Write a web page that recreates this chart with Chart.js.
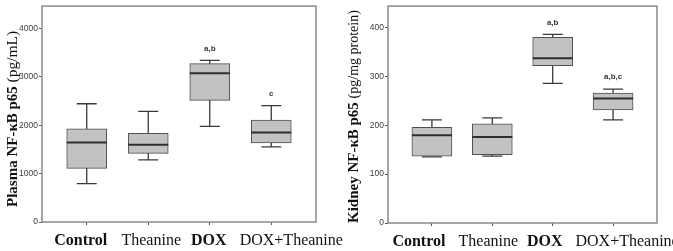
<!DOCTYPE html>
<html>
<head>
<meta charset="utf-8">
<script src="https://cdn.jsdelivr.net/npm/chart.js@4/dist/chart.umd.min.js"></script>
<style>
  body { margin: 0; background: #fff; }
  #wrap { position: relative; width: 673px; height: 251px; overflow: hidden; }
  canvas { position: absolute; top: 0; }
</style>
</head>
<body>
<div id="wrap">
  <canvas id="plasma" width="348" height="251" style="left:0"></canvas>
  <canvas id="kidney" width="333" height="251" style="left:340px"></canvas>
</div>
<script>
const groups = ['Control', 'Theanine', 'DOX', 'DOX+Theanine'];

// plasma NF-kB p65, pg/mL
const plasmaLow    = [793, 1285, 1977, 1552];
const plasmaQ1     = [1109, 1417, 2511, 1635];
const plasmaMedian = [1640, 1594, 3072, 1848];
const plasmaQ3     = [1925, 1834, 3271, 2107];
const plasmaHigh   = [2443, 2285, 3339, 2402];
const plasmaMarks  = ['', '', 'a,b', 'c'];
const plasmaTicks  = [0, 1000, 2000, 3000, 4000];

// kidney NF-kB p65, pg/mg protein
const kidneyLow    = [135.5, 137, 286, 211];
const kidneyQ1     = [137, 140, 322, 231.5];
const kidneyMedian = [179.5, 176, 337, 254.6];
const kidneyQ3     = [196, 203, 380, 266];
const kidneyHigh   = [211, 215, 386, 274];
const kidneyMarks  = ['', '', 'a,b', 'a,b,c'];
const kidneyTicks  = [0, 100, 200, 300, 400];

const SERIF = "'Liberation Serif', 'Times New Roman', serif";
const SANS = "'Liberation Sans Narrow', 'Arial Narrow', 'Liberation Sans', Arial, sans-serif";
const boldLabel = [true, false, true, false];

// whiskers, medians, letters, hand-shifted group labels and the mixed-font y title
const boxExtras = {
    id: 'boxExtras',
    beforeDatasetsDraw(chart) {
        const o = chart.options.plugins.boxExtras;
        const { ctx, scales: { x, y } } = chart;
        ctx.save();
        ctx.strokeStyle = '#3a3a3a';
        ctx.lineWidth = 1.3;
        groups.forEach((g, i) => {
            const cx = x.getPixelForValue(i);
            ctx.beginPath();
            ctx.moveTo(cx, y.getPixelForValue(o.low[i]));
            ctx.lineTo(cx, y.getPixelForValue(o.high[i]));
            [o.low[i], o.high[i]].forEach(v => {
                const py = y.getPixelForValue(v);
                ctx.moveTo(cx - 10, py);
                ctx.lineTo(cx + 10, py);
            });
            ctx.stroke();
        });
        ctx.restore();
    },
    afterDatasetsDraw(chart) {
        const o = chart.options.plugins.boxExtras;
        const { ctx, scales: { x, y } } = chart;
        ctx.save();
        ctx.strokeStyle = '#2e2e2e';
        ctx.lineWidth = 2;
        groups.forEach((g, i) => {
            const cx = x.getPixelForValue(i), py = y.getPixelForValue(o.median[i]);
            ctx.beginPath();
            ctx.moveTo(cx - 20, py);
            ctx.lineTo(cx + 20, py);
            ctx.stroke();
        });
        ctx.fillStyle = '#333';
        ctx.font = "bold 8px 'Liberation Sans', Arial, sans-serif";
        ctx.textAlign = 'center';
        ctx.textBaseline = 'middle';
        o.marks.forEach((m, i) => {
            if (m) ctx.fillText(m, x.getPixelForValue(i), y.getPixelForValue(o.high[i]) - 12);
        });
        ctx.restore();
    },
    afterDraw(chart) {
        const o = chart.options.plugins.boxExtras;
        const { ctx, chartArea: a, scales: { x } } = chart;
        ctx.save();
        // frame
        ctx.strokeStyle = '#8a8a8a';
        ctx.lineWidth = 1.5;
        ctx.strokeRect(a.left, a.top, a.right - a.left, a.bottom - a.top);
        // group labels
        ctx.fillStyle = '#111';
        ctx.textAlign = 'center';
        ctx.textBaseline = 'alphabetic';
        groups.forEach((g, i) => {
            ctx.font = (boldLabel[i] ? 'bold ' : '') + '16px ' + SERIF;
            ctx.fillText(g, x.getPixelForValue(i) + o.labelShift[i], a.bottom + 23);
        });
        // y title
        ctx.translate(o.titleX, o.titleY);
        ctx.rotate(-Math.PI / 2);
        ctx.textAlign = 'left';
        ctx.font = 'bold 15px ' + SERIF;
        ctx.fillText(o.title, 0, 0);
        const w = ctx.measureText(o.title + ' ').width;
        ctx.font = o.unitSize + 'px ' + SERIF;
        ctx.fillText(o.unit, w, 0);
        ctx.restore();
    }
};

function makeChart(id, d) {
    return new Chart(document.getElementById(id), {
        type: 'bar',
        data: {
            datasets: [{
                data: groups.map((g, i) => ({ x: i, y: [d.q1[i], d.q3[i]] })),
                backgroundColor: '#c2c2c2',
                borderColor: '#505050',
                borderWidth: 1,
                borderSkipped: false,
                barThickness: 40,
            }],
        },
        options: {
            responsive: false, animation: false,
            layout: { padding: { top: d.top, right: d.right, left: 0, bottom: 0 } },
            plugins: {
                legend: { display: false },
                tooltip: { enabled: false },
                boxExtras: d,
            },
            scales: {
                x: {
                    type: 'linear', min: -0.727, max: 3.727, offset: false,
                    afterBuildTicks: s => { s.ticks = groups.map((g, i) => ({ value: i })); },
                    afterFit: s => { s.height = d.xHeight; },
                    ticks: { display: false },
                    grid: { offset: false, drawOnChartArea: false, tickLength: 3, color: '#555' },
                    border: { display: false },
                },
                y: {
                    min: 0, max: d.max,
                    afterBuildTicks: s => { s.ticks = d.ticks.map(v => ({ value: v })); },
                    afterFit: s => { s.width = d.yWidth; },
                    ticks: { color: '#3c3c3c', padding: 1, font: { family: SANS, size: 8.5 }, callback: v => String(v) },
                    grid: { drawOnChartArea: false, tickLength: 3, color: '#555' },
                    border: { display: false },
                },
            },
        },
        plugins: [boxExtras],
    });
}

makeChart('plasma', {
    low: plasmaLow, q1: plasmaQ1, median: plasmaMedian, q3: plasmaQ3, high: plasmaHigh,
    marks: plasmaMarks, ticks: plasmaTicks, max: 4460,
    title: 'Plasma NF-κB p65', unit: '(pg/mL)', unitSize: 15.5,
    titleX: 17, titleY: 207, labelShift: [-6, 3, -1, 20],
    top: 5, right: 32, yWidth: 42, xHeight: 29,
});
makeChart('kidney', {
    low: kidneyLow, q1: kidneyQ1, median: kidneyMedian, q3: kidneyQ3, high: kidneyHigh,
    marks: kidneyMarks, ticks: kidneyTicks, max: 444,
    title: 'Kidney NF-κB p65', unit: '(pg/mg protein)', unitSize: 14,
    titleX: 18, titleY: 223, labelShift: [-13, -4, -8, 14],
    top: 4, right: 16, yWidth: 48, xHeight: 28,
});
</script>
</body>
</html>
